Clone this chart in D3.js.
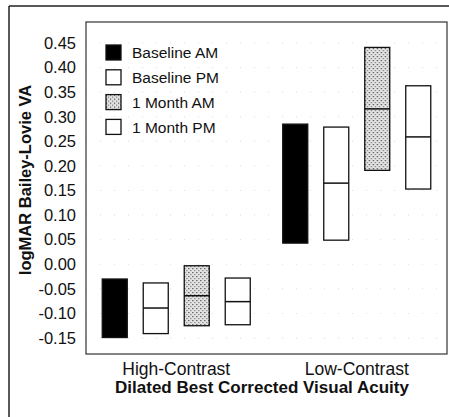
<!DOCTYPE html>
<html>
<head>
<meta charset="utf-8">
<script src="https://cdn.jsdelivr.net/npm/d3@7"></script>
<style>
  body { margin: 0; background: #fff; }
  svg { display: block; font-family: "Liberation Sans", Arial, sans-serif; }
</style>
</head>
<body>
<div id="chart"></div>
<script>
// data (logMAR, box = range, line = middle value)
const groups = ["High-Contrast", "Low-Contrast"];
const series = ["Baseline AM", "Baseline PM", "1 Month AM", "1 Month PM"];
const lowValues  = [[-0.149, -0.141, -0.125, -0.123], [0.043, 0.049, 0.191, 0.153]];
const midValues  = [[null, -0.089, -0.064, -0.076], [null, 0.165, 0.316, 0.259]];
const highValues = [[-0.030, -0.038, -0.003, -0.028], [0.285, 0.279, 0.441, 0.363]];
const yTicks = [-0.15, -0.10, -0.05, 0.00, 0.05, 0.10, 0.15, 0.20, 0.25, 0.30, 0.35, 0.40, 0.45];

const W = 449, H = 417;
const plot = { left: 86, right: 447, top: 22, bottom: 354 };

const svg = d3.select("#chart").append("svg")
    .attr("width", W)
    .attr("height", H);

// motif pointillé pour "1 Month AM"
const defs = svg.append("defs");
const pat = defs.append("pattern")
    .attr("id", "stipple")
    .attr("patternUnits", "userSpaceOnUse")
    .attr("width", 4).attr("height", 4);
pat.append("rect").attr("width", 4).attr("height", 4).attr("fill", "#e4e4e4");
pat.append("rect").attr("x", 0).attr("y", 0).attr("width", 1.2).attr("height", 1.2).attr("fill", "#444");
pat.append("rect").attr("x", 2).attr("y", 2).attr("width", 1.2).attr("height", 1.2).attr("fill", "#777");

const fills = ["#000", "#fff", "url(#stipple)", "#fff"];

// cadre extérieur
svg.append("line").attr("x1", 9).attr("y1", 6).attr("x2", 9).attr("y2", H)
    .style("stroke", "#222").style("stroke-width", 1.5);
svg.append("line").attr("x1", 9).attr("y1", 6).attr("x2", W).attr("y2", 6)
    .style("stroke", "#222").style("stroke-width", 1.5);

const y = d3.scaleLinear()
    .domain([-0.1825, 0.4927])
    .range([plot.bottom, plot.top]);

const x = d3.scalePoint()
    .domain(groups)
    .range([plot.left, plot.right])
    .padding(0.5);

const xSub = d3.scaleBand()
    .domain(series)
    .range([-74, 74])
    .paddingInner(0.39);

// grille pointillée (très discrète)
svg.append("g")
    .selectAll("line")
    .data(yTicks)
    .join("line")
    .attr("x1", plot.left)
    .attr("x2", plot.right)
    .attr("y1", d => y(d))
    .attr("y2", d => y(d))
    .style("stroke", "#ccc")
    .style("stroke-width", 0.7)
    .style("stroke-dasharray", "1,13");

// axe Y
const yAxis = svg.append("g")
    .attr("transform", `translate(${plot.left},0)`)
    .call(d3.axisLeft(y).tickValues(yTicks).tickFormat(d => d.toFixed(2)).tickSize(0).tickPadding(10));
yAxis.select(".domain").remove();
yAxis.selectAll("text")
    .style("font-size", "16.5px")
    .style("fill", "#111");

// cadre du graphique
svg.append("rect")
    .attr("x", plot.left)
    .attr("y", plot.top)
    .attr("width", plot.right - plot.left)
    .attr("height", plot.bottom - plot.top)
    .style("fill", "none")
    .style("stroke", "#333")
    .style("stroke-width", 1.2);

// boîtes
const rows = [];
groups.forEach((g, gi) => {
    series.forEach((s, si) => {
        rows.push({ g, s, si, lo: lowValues[gi][si], mid: midValues[gi][si], hi: highValues[gi][si] });
    });
});

const boxes = svg.append("g")
    .selectAll("g")
    .data(rows)
    .join("g")
    .attr("transform", d => `translate(${x(d.g) + xSub(d.s)},0)`);

boxes.append("rect")
    .attr("x", 0)
    .attr("y", d => y(d.hi))
    .attr("width", xSub.bandwidth())
    .attr("height", d => y(d.lo) - y(d.hi))
    .style("fill", d => fills[d.si])
    .style("stroke", "#111")
    .style("stroke-width", 1.3);

boxes.filter(d => d.mid !== null)
    .append("line")
    .attr("x1", 0)
    .attr("x2", xSub.bandwidth())
    .attr("y1", d => y(d.mid))
    .attr("y2", d => y(d.mid))
    .style("stroke", "#111")
    .style("stroke-width", 1.5);

// libellés des catégories
svg.append("g")
    .selectAll("text")
    .data(groups)
    .join("text")
    .attr("x", d => x(d))
    .attr("y", 375)
    .attr("text-anchor", "middle")
    .style("font-size", "17.5px")
    .style("fill", "#111")
    .text(d => d);

// titres des axes
svg.append("text")
    .attr("x", 262)
    .attr("y", 393)
    .attr("text-anchor", "middle")
    .style("font-size", "17px")
    .style("font-weight", "bold")
    .style("fill", "#111")
    .text("Dilated Best Corrected Visual Acuity");

svg.append("text")
    .attr("transform", "translate(31,180) rotate(-90)")
    .attr("text-anchor", "middle")
    .style("font-size", "16.5px")
    .style("font-weight", "bold")
    .style("fill", "#111")
    .text("logMAR Bailey-Lovie VA");

// légende
const legend = svg.append("g")
    .attr("transform", "translate(106,45)")
    .selectAll("g")
    .data(series)
    .join("g")
    .attr("transform", (d, i) => `translate(0,${i * 24.8})`);

legend.append("rect")
    .attr("width", 15)
    .attr("height", 15)
    .style("fill", (d, i) => fills[i])
    .style("stroke", "#111")
    .style("stroke-width", 1.3);

legend.append("text")
    .attr("x", 26)
    .attr("y", 8)
    .attr("dy", "0.35em")
    .style("font-size", "15.5px")
    .style("fill", "#111")
    .text(d => d);
</script>
</body>
</html>
